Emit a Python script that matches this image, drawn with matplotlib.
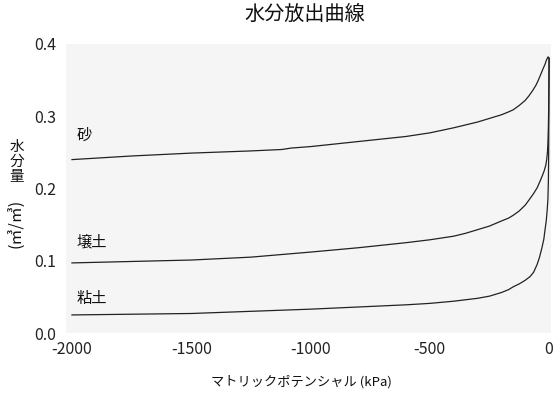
import matplotlib
matplotlib.use("Agg")
import matplotlib.pyplot as plt

plt.rcParams['font.family'] = ['Noto Sans CJK JP', 'DejaVu Sans']

# Data (matric potential kPa, volumetric water content)
sand_x = [-2000, -1750, -1500, -1250, -1120, -1080, -1000, -800, -600, -500, -400, -350,
          -300, -250, -200, -170, -150, -125, -100, -85, -70, -55, -45, -35, -25, -17,
          -12, -8, -5, -3, -1, 0]
sand_y = [0.240, 0.245, 0.249, 0.252, 0.254, 0.256, 0.258, 0.265, 0.272, 0.277, 0.284, 0.288,
          0.292, 0.297, 0.302, 0.306, 0.309, 0.315, 0.322, 0.328, 0.335, 0.343, 0.350, 0.358,
          0.366, 0.372, 0.377, 0.380, 0.382, 0.382, 0.381, 0.380]

loam_x = [-2000, -1750, -1500, -1250, -1000, -800, -600, -500, -400, -350, -300, -250,
          -200, -170, -150, -125, -100, -80, -65, -50, -38, -28, -20, -14, -10, -7, -5,
          -3, -2, -1, 0]
loam_y = [0.097, 0.099, 0.101, 0.105, 0.112, 0.118, 0.125, 0.129, 0.134, 0.138, 0.143, 0.148,
          0.155, 0.159, 0.163, 0.169, 0.177, 0.186, 0.193, 0.201, 0.210, 0.218, 0.225, 0.232,
          0.240, 0.250, 0.262, 0.285, 0.305, 0.340, 0.380]

clay_x = [-2000, -1750, -1500, -1250, -1000, -800, -600, -500, -400, -300, -250, -200,
          -170, -150, -125, -100, -80, -65, -50, -40, -30, -22, -17, -12, -8, -5, -3,
          -2, -1, -0.5, 0]
clay_y = [0.025, 0.026, 0.027, 0.030, 0.033, 0.036, 0.039, 0.041, 0.044, 0.048, 0.051, 0.056,
          0.060, 0.064, 0.068, 0.073, 0.078, 0.084, 0.095, 0.105, 0.118, 0.130, 0.143, 0.155,
          0.170, 0.185, 0.210, 0.240, 0.300, 0.340, 0.380]

labels = ['砂', '壌土', '粘土']
label_pos_y = [0.273, 0.126, 0.048]
x_ticks = [-2000, -1500, -1000, -500, 0]
x_tick_labels = ['-2000', '-1500', '-1000', '-500', '0']
y_ticks = [0.0, 0.1, 0.2, 0.3, 0.4]
y_tick_labels = ['0.0', '0.1', '0.2', '0.3', '0.4']

W, H = 556, 393
fig = plt.figure(figsize=(W / 100, H / 100), dpi=100)
ax = fig.add_axes([66 / W, (H - 333) / H, (551 - 66) / W, (333 - 44) / H])
ax.set_facecolor('#f5f5f5')

for xs, ys in [(sand_x, sand_y), (loam_x, loam_y), (clay_x, clay_y)]:
    ax.plot(xs, ys, color='#222222', lw=0.9, solid_joinstyle='round')

for lab, ly in zip(labels, label_pos_y):
    ax.text(-1980, ly, lab, fontsize=11, ha='left', va='center', color='#111111')

ax.set_xlim(-2025, 8)
ax.set_ylim(0, 0.4)
ax.set_xticks(x_ticks)
ax.set_xticklabels(x_tick_labels)
ax.set_yticks(y_ticks)
ax.set_yticklabels(y_tick_labels)
for s in ax.spines.values():
    s.set_visible(False)
ax.tick_params(axis='both', length=0, labelsize=11.5, colors='#222222')
ax.tick_params(axis='y', pad=23)
ax.tick_params(axis='x', pad=6)
for t in ax.get_yticklabels():
    t.set_horizontalalignment('left')

fig.text(305 / W, 1 - 14 / H, '水分放出曲線', fontsize=14.5, ha='center', va='center', color='#111111')
fig.text(301 / W, 1 - 382 / H, 'マトリックポテンシャル (kPa)', fontsize=9.5, ha='center', va='center', color='#111111')
fig.text(17 / W, 1 - 162 / H, '水\n分\n量', fontsize=10.5, ha='center', va='center', linespacing=1.05, color='#111111')
fig.text(17 / W, 1 - 223 / H, '(㎥/㎥)', fontsize=11.5, ha='center', va='center', rotation=90, color='#111111')

fig.savefig('out.png', dpi=100)
